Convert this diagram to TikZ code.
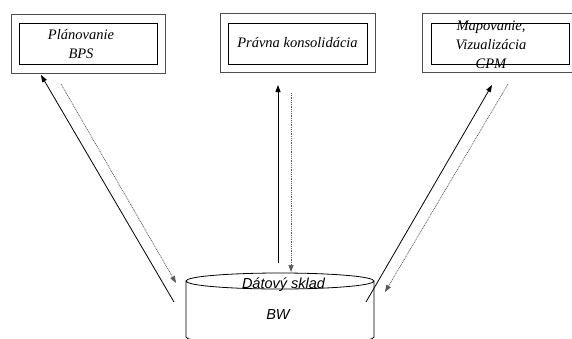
\documentclass[tikz,border=0pt]{standalone}
\usepackage{fontspec}
\setmainfont{Liberation Serif}
\setsansfont{Liberation Sans}
\usetikzlibrary{arrows.meta, calc}

\begin{document}
\begin{tikzpicture}[x=1pt, y=-1pt, font=\itshape\fontsize{14.5}{19}\selectfont,
    frameout/.style={draw=black!70, line width=1pt, minimum height=59pt, inner sep=0pt},
    framein/.style={draw=black, line width=0.8pt, minimum height=41pt, inner sep=0pt},
    dwfont/.style={font=\sffamily\itshape\fontsize{14.5}{19}\selectfont},
    arr/.style={-{Triangle[length=7pt, width=5pt]}, line width=0.8pt},
    dots/.style={black!65, line width=0.7pt, dash pattern=on 1pt off 0.8pt}]
    \useasboundingbox (0, 0) rectangle (572, 338);

    % moduly hore
    \node[frameout, minimum width=154pt] (planOut) at (88, 43.5) {};
    \node[framein, minimum width=138pt] (plan) at (88, 43.5) {};
    \node[align=center] (planText) at (81, 44) {Plánovanie\\BPS};

    \node[frameout, minimum width=155pt] (consOut) at (297.5, 43) {};
    \node[framein, minimum width=139pt] (cons) at (297.5, 43.5) {};
    \node[anchor=base] (consText) at (297.5, 47) {Právna konsolidácia};

    \node[frameout, minimum width=150pt] (cpmOut) at (497, 43) {};
    \node[framein, minimum width=138pt] (cpm) at (500, 43.5) {};
    \node[align=center] (cpmText) at (491, 45) {Mapovanie,\\Vizualizácia\\CPM};

    % sklad
    \coordinate (dw) at (280, 281);
    \draw[line width=0.8pt]
    (dw) ellipse [x radius=94, y radius=8]
    ($(dw) + (-94, 0)$) -- ($(dw) + (-94, 56)$)
        arc[start angle=180, end angle=0, x radius=94, y radius=8]
        -- ($(dw) + (94, 0)$);
    \node[dwfont, anchor=base] (dwText) at (283.5, 288) {Dátový sklad};
    \node[dwfont, anchor=base] (bw) at (278, 319) {BW};

    % toky
    \coordinate (pUp0) at (174, 302);
    \coordinate (pUp1) at (41, 75);
    \coordinate (pDn0) at (61, 84);
    \coordinate (pDn1) at (176, 283);
    \coordinate (kUp0) at (278, 263);
    \coordinate (kUp1) at (278, 85);
    \coordinate (kDn0) at (291, 93);
    \coordinate (kDn1) at (291, 272);
    \coordinate (cUp0) at (366, 302);
    \coordinate (cUp1) at (492, 85);
    \coordinate (cDn0) at (508, 84);
    \coordinate (cDn1) at (385, 292);

    \draw[arr] (pUp0) -- (pUp1);
    \draw[arr] (kUp0) -- (kUp1);
    \draw[arr] (cUp0) -- (cUp1);
    \draw[arr, dots] (pDn0) -- (pDn1);
    \draw[arr, dots] (kDn0) -- (kDn1);
    \draw[arr, dots] (cDn0) -- (cDn1);
\end{tikzpicture}
\end{document}
